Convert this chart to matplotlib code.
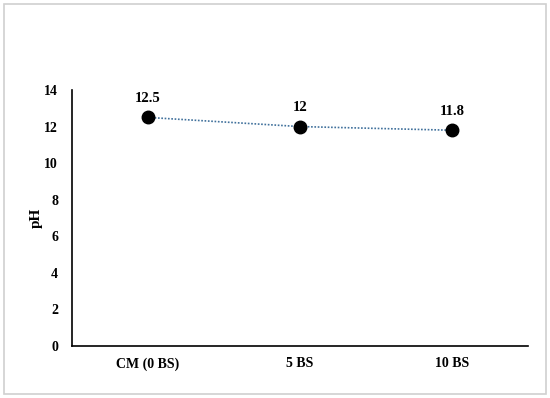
import matplotlib
matplotlib.use('Agg')
import matplotlib.pyplot as plt
from matplotlib.patches import Rectangle

categories = ['CM (0 BS)', '5 BS', '10 BS']
ph_values = [12.5, 12.0, 11.8]
value_labels = ['12.5', '12', '11.8']

plt.rcParams['font.family'] = ['Liberation Serif', 'DejaVu Serif']
plt.rcParams['font.weight'] = 'bold'

fig = plt.figure(figsize=(5.5, 3.98), dpi=100)
ax = fig.add_axes([72 / 550, 1 - 346 / 398, 456 / 550, 256 / 398])

x = list(range(len(categories)))
ax.plot(x, ph_values, linestyle=(0, (1, 1)), color='#41719C', linewidth=1.2, zorder=2)
ax.plot(x, ph_values, linestyle='none', marker='o', markersize=9,
        color='black', zorder=3)

for xi, yi, lab in zip(x, ph_values, value_labels):
    ax.annotate(lab, (xi, yi), xytext=(0, 9), textcoords='offset points',
                ha='center', va='bottom', fontsize=10.5, fontweight='bold')

ax.set_xlim(-0.5, 2.5)
ax.set_ylim(0, 14)
ax.set_yticks(range(0, 15, 2))
ax.set_xticks(x)
ax.set_xticklabels(categories)
ax.tick_params(axis='y', length=0, labelsize=10, pad=10)
ax.tick_params(axis='x', length=0, labelsize=10, pad=8)
for lab in ax.get_xticklabels() + ax.get_yticklabels():
    lab.set_fontweight('bold')
ax.set_ylabel('pH', fontsize=11, fontweight='bold', labelpad=1)

ax.spines['top'].set_visible(False)
ax.spines['right'].set_visible(False)
ax.spines['left'].set_linewidth(1.2)
ax.spines['bottom'].set_linewidth(1.2)

fig.patches.append(Rectangle((4 / 550, 4 / 398), 542 / 550, 390 / 398,
                             transform=fig.transFigure, fill=False,
                             edgecolor='#D0D0D0', linewidth=1.2))

fig.savefig('out.png', dpi=100)
